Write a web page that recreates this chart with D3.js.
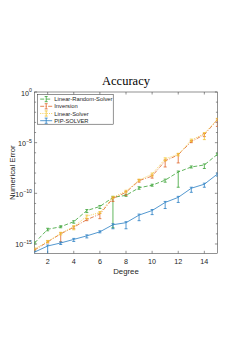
<!DOCTYPE html>
<html>
<head>
<meta charset="utf-8">
<script src="https://cdn.jsdelivr.net/npm/d3@7"></script>
<style>
  body { margin: 0; background: #fff; }
  text { font-family: "Liberation Sans", Arial, sans-serif; fill: #262626; }
</style>
</head>
<body>
<svg id="chart" width="248" height="351"></svg>
<script>
"use strict";

// degree on the x axis
const degrees = [1, 2, 3, 4, 5, 6, 7, 8, 9, 10, 11, 12, 13, 14, 15];

// numerical error as log10 values (mean, lower, upper)
const lrs_mean = [-14.9, -13.55, -13.3, -12.8, -11.7, -11.3, -10.4, -10.2, -9.45, -9.2, -8.7, -7.9, -7.4, -7.2, -6.15];
const lrs_lo   = [-15.0, -13.7, -13.4, -12.95, -11.9, -11.5, -13.4, -10.3, -9.6, -9.3, -8.9, -9.4, -7.5, -7.55, -6.25];
const lrs_hi   = [-14.8, -13.45, -13.2, -12.7, -11.6, -11.2, -10.3, -10.1, -9.35, -9.1, -8.6, -7.8, -7.3, -7.1, -6.05];

const inv_mean = [-15.6, -14.8, -14.0, -13.35, -12.6, -12.05, -10.5, -9.9, -8.75, -8.3, -6.8, -6.2, -4.9, -4.2, -2.75];
const inv_lo   = [-15.7, -14.9, -14.8, -13.5, -12.7, -12.5, -10.8, -10.2, -8.9, -8.5, -7.4, -7.0, -5.0, -4.4, -3.4];
const inv_hi   = [-15.5, -14.7, -13.9, -13.25, -12.5, -11.95, -10.4, -9.8, -8.65, -8.2, -6.7, -6.1, -4.8, -4.1, -2.65];

const ls_mean  = [-15.5, -14.75, -13.95, -13.3, -12.25, -11.9, -10.4, -9.8, -8.7, -8.1, -6.6, -6.15, -4.75, -4.1, -2.7];
const ls_lo    = [-15.6, -14.85, -14.1, -13.6, -12.5, -12.0, -10.5, -9.9, -8.8, -8.3, -6.8, -6.3, -4.9, -4.7, -2.8];
const ls_hi    = [-15.4, -14.65, -13.85, -13.2, -12.15, -11.8, -10.3, -9.7, -8.6, -8.0, -6.5, -6.05, -4.65, -4.0, -2.6];

const pip_mean = [-15.8, -15.2, -14.9, -14.55, -14.2, -13.8, -13.1, -12.9, -12.15, -11.7, -10.9, -10.4, -9.5, -9.1, -8.1];
const pip_lo   = [-16.2, -16.6, -15.05, -14.75, -14.4, -13.9, -13.5, -13.5, -12.7, -12.1, -11.5, -10.9, -9.9, -9.4, -8.3];
const pip_hi   = [-15.7, -15.1, -14.8, -14.45, -14.1, -13.7, -13.0, -12.8, -12.05, -11.6, -10.8, -10.3, -9.4, -9.0, -8.0];

const series_names = ["Linear-Random-Solver", "Inversion", "Linear-Solver", "PIP-SOLVER"];
const x_ticks = [2, 4, 6, 8, 10, 12, 14];
const y_ticks = [0, -5, -10, -15];   // exponents

const series = [
  { name: series_names[0], mean: lrs_mean, lo: lrs_lo, hi: lrs_hi, color: "#3aa335", dash: "4,2" },
  { name: series_names[1], mean: inv_mean, lo: inv_lo, hi: inv_hi, color: "#e0662a", dash: "4,1.5,1,1.5" },
  { name: series_names[2], mean: ls_mean, lo: ls_lo, hi: ls_hi, color: "#f2c531", dash: "1,1.2" },
  { name: series_names[3], mean: pip_mean, lo: pip_lo, hi: pip_hi, color: "#2a7fc4", dash: null }
];

const svg = d3.select("#chart");

const chart_left = 34.6, chart_right = 217.4,
  chart_top = 92, chart_bottom = 253.3;

const x_scale = d3.scaleLinear().domain([1, 15]).range([chart_left, chart_right]);
const y_scale = d3.scaleLog().domain([Math.pow(10, -15.92), 1]).range([chart_bottom, chart_top]);

svg.append("clipPath").attr("id", "plot-area").append("rect")
  .attr("x", chart_left).attr("y", chart_top)
  .attr("width", chart_right - chart_left).attr("height", chart_bottom - chart_top);

// axes box
svg.append("rect")
  .attr("x", chart_left).attr("y", chart_top)
  .attr("width", chart_right - chart_left).attr("height", chart_bottom - chart_top)
  .attr("fill", "none").attr("stroke", "#262626").attr("stroke-width", 0.5);

// x ticks (inward, bottom and top)
const x_axis = svg.append("g");
x_ticks.forEach(t => {
  const xp = x_scale(t);
  x_axis.append("line").attr("x1", xp).attr("x2", xp).attr("y1", chart_bottom).attr("y2", chart_bottom - 2.5)
    .attr("stroke", "#262626").attr("stroke-width", 0.5);
  x_axis.append("line").attr("x1", xp).attr("x2", xp).attr("y1", chart_top).attr("y2", chart_top + 2.5)
    .attr("stroke", "#262626").attr("stroke-width", 0.5);
  x_axis.append("text").attr("x", xp).attr("y", 264).attr("text-anchor", "middle")
    .attr("font-size", 7.2).text(t);
});

// y ticks: minor on each decade, major with labels
const y_axis = svg.append("g");
for (let e = -15; e <= 0; e++) {
  const yp = y_scale(Math.pow(10, e));
  const len = (e % 5 === 0) ? 2.5 : 1.5;
  y_axis.append("line").attr("x1", chart_left).attr("x2", chart_left + len).attr("y1", yp).attr("y2", yp)
    .attr("stroke", "#262626").attr("stroke-width", 0.5);
  y_axis.append("line").attr("x1", chart_right).attr("x2", chart_right - len).attr("y1", yp).attr("y2", yp)
    .attr("stroke", "#262626").attr("stroke-width", 0.5);
}
y_ticks.forEach(e => {
  const yp = y_scale(Math.pow(10, e));
  const lbl = y_axis.append("text").attr("x", 32).attr("y", yp + 3.5).attr("text-anchor", "end")
    .attr("font-size", 7.2);
  lbl.append("tspan").text("10");
  lbl.append("tspan").attr("dy", -3.5).attr("font-size", 5.2).text(e === 0 ? "0" : "\u2212" + Math.abs(e));
});

// axis labels and title
svg.append("text").attr("x", (chart_left + chart_right) / 2).attr("y", 274)
  .attr("text-anchor", "middle").attr("font-size", 7.8).text("Degree");
svg.append("text").attr("transform", "translate(15," + ((chart_top + chart_bottom) / 2) + ") rotate(-90)")
  .attr("text-anchor", "middle").attr("font-size", 7.8).text("Numerical Error");
svg.append("text").attr("x", (chart_left + chart_right) / 2).attr("y", 85)
  .attr("text-anchor", "middle").attr("font-size", 12.5)
  .style("font-family", "'Liberation Serif', 'DejaVu Serif', serif").style("fill", "#000")
  .text("Accuracy");

// series with error bars
const plot = svg.append("g").attr("clip-path", "url(#plot-area)");
const cap = 1.5;

series.forEach(s => {
  const rows = degrees.map((d, i) => ({
    x: d, y: Math.pow(10, s.mean[i]), lo: Math.pow(10, s.lo[i]), hi: Math.pow(10, s.hi[i])
  }));
  const g = plot.append("g");

  const line = d3.line().x(d => x_scale(d.x)).y(d => y_scale(d.y));
  g.append("path").datum(rows).attr("d", line)
    .attr("fill", "none").attr("stroke", s.color).attr("stroke-width", 0.8)
    .attr("stroke-dasharray", s.dash);

  const bars = g.selectAll(".ebar").data(rows).enter().append("g");
  bars.append("line")
    .attr("x1", d => x_scale(d.x)).attr("x2", d => x_scale(d.x))
    .attr("y1", d => y_scale(d.lo)).attr("y2", d => y_scale(d.hi))
    .attr("stroke", s.color).attr("stroke-width", 0.8);
  bars.append("line")
    .attr("x1", d => x_scale(d.x) - cap).attr("x2", d => x_scale(d.x) + cap)
    .attr("y1", d => y_scale(d.lo)).attr("y2", d => y_scale(d.lo))
    .attr("stroke", s.color).attr("stroke-width", 0.8);
  bars.append("line")
    .attr("x1", d => x_scale(d.x) - cap).attr("x2", d => x_scale(d.x) + cap)
    .attr("y1", d => y_scale(d.hi)).attr("y2", d => y_scale(d.hi))
    .attr("stroke", s.color).attr("stroke-width", 0.8);
});

// legend
const leg_x = 37.7, leg_y = 94.7, leg_w = 75.5, leg_h = 29.5;
const legend = svg.append("g");
legend.append("rect").attr("x", leg_x).attr("y", leg_y).attr("width", leg_w).attr("height", leg_h)
  .attr("fill", "#fff").attr("stroke", "#262626").attr("stroke-width", 0.5);

series.forEach((s, i) => {
  const ly = leg_y + 4.4 + i * 7.2;
  legend.append("line").attr("x1", leg_x + 2.5).attr("x2", leg_x + 14.5).attr("y1", ly).attr("y2", ly)
    .attr("stroke", s.color).attr("stroke-width", 0.8).attr("stroke-dasharray", s.dash);
  const cx = leg_x + 8.5;
  legend.append("line").attr("x1", cx).attr("x2", cx).attr("y1", ly - 2.6).attr("y2", ly + 2.6)
    .attr("stroke", s.color).attr("stroke-width", 0.8);
  [ly - 2.6, ly + 2.6].forEach(yy => {
    legend.append("line").attr("x1", cx - cap).attr("x2", cx + cap).attr("y1", yy).attr("y2", yy)
      .attr("stroke", s.color).attr("stroke-width", 0.8);
  });
  legend.append("text").attr("x", leg_x + 16.5).attr("y", ly + 2.1)
    .attr("font-size", 5.8).text(s.name);
});
</script>
</body>
</html>
